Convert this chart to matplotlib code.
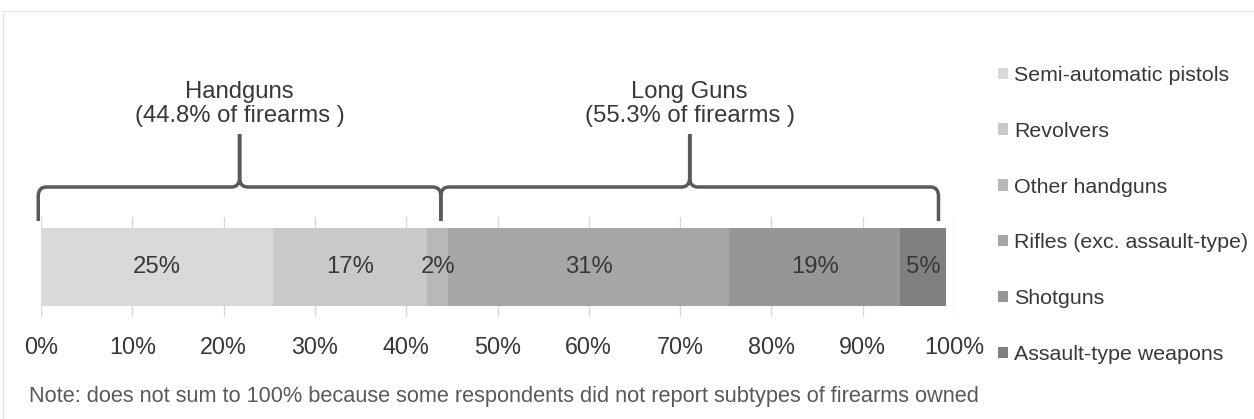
import matplotlib
matplotlib.use('Agg')
import matplotlib.pyplot as plt
import matplotlib.transforms as mtransforms
from matplotlib.path import Path
from matplotlib.patches import PathPatch, Patch
from matplotlib.lines import Line2D
import numpy as np

plt.rcParams['font.family'] = ['Liberation Sans', 'DejaVu Sans']

# Datos del grafico
categorias = ['Semi-automatic pistols', 'Revolvers', 'Other handguns',
              'Rifles (exc. assault-type)', 'Shotguns', 'Assault-type weapons']
porcentajes = [25.4, 16.9, 2.3, 30.8, 18.7, 5.0]
etiquetas_barra = ['25%', '17%', '2%', '31%', '19%', '5%']
colores = ['#d9d9d9', '#c9c9c9', '#b8b8b8', '#a6a6a6', '#969696', '#808080']

grupos = ['Handguns\n(44.8% of firearms )', 'Long Guns\n(55.3% of firearms )']
tamanos_grupo = [3, 3]

ticks = list(range(0, 101, 10))
nota = ('Note: does not sum to 100% because some respondents did not report '
        'subtypes of firearms owned')

TEXTO = '#383838'

W, H = 1254, 419
fig = plt.figure(figsize=(W / 100, H / 100), dpi=100)
ax = fig.add_axes([41 / W, 1 - 317 / H, 913 / W, 100 / H])

# Barra apilada
inicio = 0
for valor, etiqueta, color, nombre in zip(porcentajes, etiquetas_barra, colores, categorias):
    ax.barh(0, valor, left=inicio, height=0.78, color=color, label=nombre, zorder=2)
    ax.text(inicio + valor / 2, 0, etiqueta, ha='center', va='center',
            fontsize=17.2, color=TEXTO, zorder=3)
    inicio += valor

ax.set_xlim(0, 100)
ax.set_ylim(-0.5, 0.5)
ax.set_xticks(ticks)
ax.set_xticklabels([f'{t}%' for t in ticks], fontsize=16.8, color=TEXTO)
ax.set_yticks([])
ax.tick_params(axis='x', length=0, pad=14)
ax.grid(axis='x', color='#d9d9d9', linewidth=1, zorder=0)
ax.set_axisbelow(True)
for s in ax.spines.values():
    s.set_visible(False)

# Llaves sobre los grupos
trans = mtransforms.blended_transform_factory(ax.transData, ax.transAxes)
acum = np.cumsum(porcentajes)
y_bajo, y_med, y_pico = 0.96, 1.30, 1.83
rx, ry = 0.9, 0.09

def dibujar_llave(x0, x1, texto):
    xm = (x0 + x1) / 2
    verts = [
        (x0, y_bajo), (x0, y_med - ry), (x0, y_med), (x0 + rx, y_med),
        (xm - rx, y_med), (xm, y_med), (xm, y_med + ry), (xm, y_pico),
        (xm, y_med + ry), (xm, y_med), (xm + rx, y_med),
        (x1 - rx, y_med), (x1, y_med), (x1, y_med - ry), (x1, y_bajo),
    ]
    codes = [Path.MOVETO, Path.LINETO, Path.CURVE3, Path.CURVE3,
             Path.LINETO, Path.CURVE3, Path.CURVE3, Path.LINETO,
             Path.LINETO, Path.CURVE3, Path.CURVE3,
             Path.LINETO, Path.CURVE3, Path.CURVE3, Path.LINETO]
    patch = PathPatch(Path(verts, codes), transform=trans, fill=False,
                      edgecolor='#595959', linewidth=2.5, clip_on=False,
                      capstyle='butt', joinstyle='miter')
    ax.add_patch(patch)
    ax.text(xm, 1.90, texto, transform=trans, ha='center', va='bottom',
            fontsize=17.2, color=TEXTO, linespacing=1.1)

pos = 0
bordes = [0]
for n in tamanos_grupo:
    pos += n
    bordes.append(acum[pos - 1] - 0.8)
bordes[0] = -0.3
for i, texto in enumerate(grupos):
    dibujar_llave(bordes[i], bordes[i + 1], texto)

# Leyenda
manejadores = [Patch(facecolor=c, edgecolor='none') for c in colores]
fig.legend(manejadores, categorias, loc='upper left',
           bbox_to_anchor=(998 / W, 1 - 66 / H), frameon=False,
           fontsize=15.4, labelcolor=TEXTO, handlelength=0.45,
           handleheight=0.45, handletextpad=0.3, labelspacing=1.72,
           borderpad=0, borderaxespad=0)

# Nota
fig.text(29 / W, 1 - 396 / H, nota, ha='left', va='center',
         fontsize=15.7, color='#595959')

# Borde tenue del area del grafico
fig.add_artist(Line2D([3 / W, 1], [1 - 11 / H, 1 - 11 / H], color='#e6e6e6',
                      linewidth=1, transform=fig.transFigure))
fig.add_artist(Line2D([3 / W, 3 / W], [0, 1 - 11 / H], color='#e6e6e6',
                      linewidth=1, transform=fig.transFigure))

fig.savefig('out.png', dpi=100, facecolor='white')
